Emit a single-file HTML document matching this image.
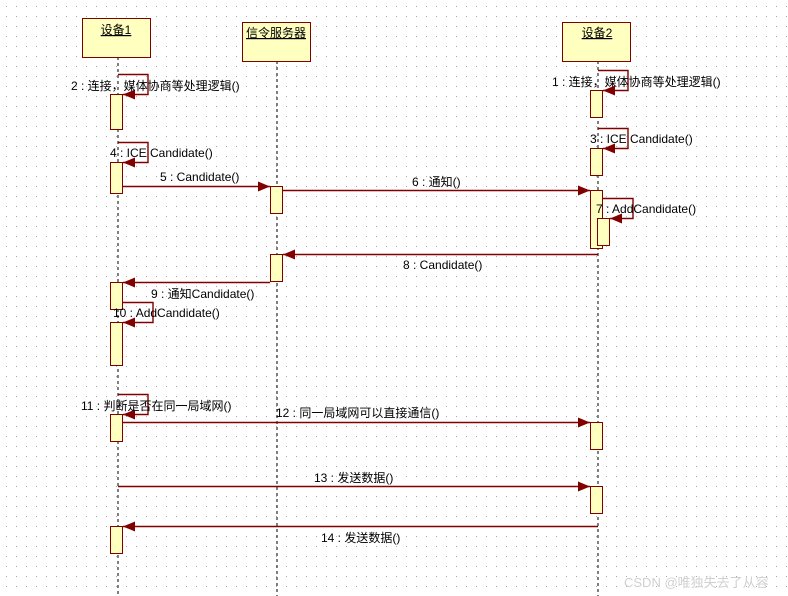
<!DOCTYPE html>
<html><head><meta charset="utf-8"><style>
html,body{margin:0;padding:0;background:#fff;}
svg{display:block;}
text{font-family:"Liberation Sans","Noto Sans CJK SC",sans-serif;font-size:12px;fill:#000;}
</style></head><body>
<svg width="788" height="596" viewBox="0 0 788 596" xmlns="http://www.w3.org/2000/svg">
<defs>
<pattern id="dots" x="6" y="6" width="10" height="10" patternUnits="userSpaceOnUse">
<rect x="0" y="0" width="1" height="1" fill="#a8a8a8"/>
</pattern>
<marker id="ah" markerWidth="12" markerHeight="10" refX="12" refY="5" orient="auto" markerUnits="userSpaceOnUse">
<path d="M0,0 L12,5 L0,10 z" fill="#800000"/>
</marker>
</defs>
<rect width="788" height="596" fill="url(#dots)"/>

<g stroke="#000" stroke-width="1" stroke-dasharray="3,3">
<line x1="118" y1="57" x2="118" y2="596"/>
<line x1="277" y1="61" x2="277" y2="596"/>
<line x1="598" y1="61" x2="598" y2="596"/>
</g>

<g fill="#ffffc0" stroke="#800000" stroke-width="1">
<rect x="82.5" y="18.5" width="68" height="39"/>
<rect x="242.5" y="22.5" width="68" height="39"/>
<rect x="562.5" y="22.5" width="68" height="39"/>
</g>
<text x="116" y="34" text-anchor="middle" text-decoration="underline" font-size="13">设备1</text>
<text x="276" y="37" text-anchor="middle" text-decoration="underline" font-size="13">信令服务器</text>
<text x="597" y="37" text-anchor="middle" text-decoration="underline" font-size="13">设备2</text>

<g fill="#ffffc0" stroke="#800000" stroke-width="1">
<rect x="110.5" y="94.5" width="12" height="35"/>
<rect x="110.5" y="162.5" width="12" height="31"/>
<rect x="110.5" y="282.5" width="12" height="27"/>
<rect x="110.5" y="322.5" width="12" height="43"/>
<rect x="110.5" y="414.5" width="12" height="27"/>
<rect x="110.5" y="526.5" width="12" height="27"/>
<rect x="270.5" y="186.5" width="12" height="27"/>
<rect x="270.5" y="254.5" width="12" height="27"/>
<rect x="590.5" y="90.5" width="12" height="27"/>
<rect x="590.5" y="148.5" width="12" height="27"/>
<rect x="590.5" y="190.5" width="12" height="58"/>
<rect x="597.5" y="218.5" width="12" height="27"/>
<rect x="590.5" y="422.5" width="12" height="27"/>
<rect x="590.5" y="486.5" width="12" height="27"/>
</g>

<g stroke="#800000" stroke-width="1.4" fill="none" marker-end="url(#ah)">
<polyline points="118,74.5 148,74.5 148,94.5 123,94.5"/>
<polyline points="118,142.5 148,142.5 148,162.5 123,162.5"/>
<polyline points="598,70.5 628,70.5 628,90.5 603,90.5"/>
<polyline points="598,128.5 628,128.5 628,148.5 603,148.5"/>
<polyline points="602,198.5 633,198.5 633,218.5 610,218.5"/>
<polyline points="122,302.5 153,302.5 153,322.5 123,322.5"/>
<polyline points="118,394.5 148,394.5 148,414.5 123,414.5"/>
<line x1="122" y1="186.5" x2="270" y2="186.5"/>
<line x1="282" y1="190.5" x2="590" y2="190.5"/>
<line x1="598" y1="254.5" x2="283" y2="254.5"/>
<line x1="270" y1="282.5" x2="123" y2="282.5"/>
<line x1="122" y1="422.5" x2="590" y2="422.5"/>
<line x1="118" y1="486.5" x2="590" y2="486.5"/>
<line x1="598" y1="526.5" x2="123" y2="526.5"/>
</g>

<text x="71" y="90">2 : 连接，媒体协商等处理逻辑()</text>
<text x="552" y="86">1 : 连接，媒体协商等处理逻辑()</text>
<text x="110" y="157">4 : ICE Candidate()</text>
<text x="590" y="143">3 : ICE Candidate()</text>
<text x="160" y="181">5 : Candidate()</text>
<text x="412" y="186">6 : 通知()</text>
<text x="596" y="213">7 : AddCandidate()</text>
<text x="403" y="269">8 : Candidate()</text>
<text x="151" y="298">9 : 通知Candidate()</text>
<text x="113" y="317">10 : AddCandidate()</text>
<text x="81" y="410">11 : 判断是否在同一局域网()</text>
<text x="276" y="417">12 : 同一局域网可以直接通信()</text>
<text x="314" y="482">13 : 发送数据()</text>
<text x="321" y="542">14 : 发送数据()</text>
<text x="624" y="587" style="fill:#d0d0d0;font-size:13px">CSDN @唯独失去了从容</text>
</svg>
</body></html>
